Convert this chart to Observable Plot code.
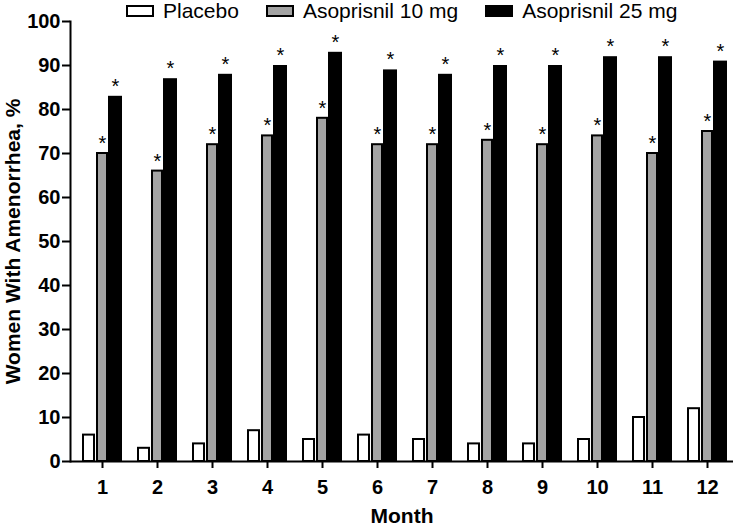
<!DOCTYPE html>
<html>
<head>
<meta charset="utf-8">
<script src="https://cdn.jsdelivr.net/npm/d3@7"></script>
<script src="https://cdn.jsdelivr.net/npm/@observablehq/plot@0.6"></script>
<style>
  html, body { margin: 0; padding: 0; background: #fff; }
  #wrap { position: relative; width: 736px; height: 525px; font-family: "Liberation Sans", Arial, Helvetica, sans-serif; }
  #legend { position: absolute; left: 126px; top: 0px; display: flex; align-items: center; height: 21px; font-size: 21px; color: #000; }
  .item { display: flex; align-items: center; margin-right: 27px; }
  .sw { width: 24px; height: 8px; border: 2px solid #000; margin-right: 9px; box-sizing: content-box; }
</style>
</head>
<body>
<div id="wrap">
  <div id="chart"></div>
  <div id="legend"></div>
</div>
<script>
const months = ["1","2","3","4","5","6","7","8","9","10","11","12"];
const placebo = [6, 3, 4, 7, 5, 6, 5, 4, 4, 5, 10, 12];
const aso10 = [70, 66, 72, 74, 78, 72, 72, 73, 72, 74, 70, 75];
const aso25 = [83, 87, 88, 90, 93, 89, 88, 90, 90, 92, 92, 91];
const seriesNames = ["Placebo", "Asoprisnil 10 mg", "Asoprisnil 25 mg"];
const seriesFills = ["#ffffff", "#a3a3a3", "#000000"];
const yTicks = [0, 10, 20, 30, 40, 50, 60, 70, 80, 90, 100];

const rows = (vals) => months.map((m, i) => ({month: m, value: vals[i]}));
const dP = rows(placebo), d10 = rows(aso10), d25 = rows(aso25);

const font = "Liberation Sans, Arial, Helvetica, sans-serif";

const chart = Plot.plot({
  width: 736,
  height: 525,
  marginLeft: 70,
  marginRight: 3,
  marginTop: 21,
  marginBottom: 64,
  style: {fontFamily: font, background: "#fff", color: "#000"},
  x: {domain: months, range: [82, 727], paddingInner: 0.273, paddingOuter: 0},
  y: {domain: [0, 100]},
  marks: [
    Plot.barY(dP, {x: "month", y: "value", fill: seriesFills[0], stroke: "#000", strokeWidth: 2, insetLeft: 1, insetRight: 28}),
    Plot.barY(d10, {x: "month", y: "value", fill: seriesFills[1], stroke: "#000", strokeWidth: 2, insetLeft: 15, insetRight: 15}),
    Plot.barY(d25, {x: "month", y: "value", fill: seriesFills[2], insetLeft: 26, insetRight: 0}),
    Plot.text(d10, {x: "month", y: "value", text: () => "*", dx: 0, dy: -10, fontSize: 20, fill: "#000"}),
    Plot.text(d25, {x: "month", y: "value", text: () => "*", dx: 13, dy: -10, fontSize: 20, fill: "#000"}),
    Plot.ruleY([0], {stroke: "#000", strokeWidth: 2}),
    Plot.frame({anchor: "left", stroke: "#000", strokeWidth: 2}),
    Plot.axisY({ticks: yTicks, tickSize: 8, tickPadding: 2, tickFormat: d3.format("d"), fontSize: 20, fontWeight: "bold", strokeWidth: 2,
      label: "Women With Amenorrhea, %", labelAnchor: "center", labelOffset: 65, labelArrow: "none"}),
    Plot.axisX({tickSize: 7, tickPadding: 11, fontSize: 20, fontWeight: "bold", strokeWidth: 2,
      label: "Month", labelAnchor: "center", labelOffset: 61, labelArrow: "none"})
  ]
});
chart.querySelectorAll("g[aria-label='y-axis label'], g[aria-label='x-axis label'], g[aria-label='y-axis label'] text, g[aria-label='x-axis label'] text").forEach(el => {
  el.setAttribute("font-weight", "bold");
  el.setAttribute("font-size", "21");
});
document.getElementById("chart").appendChild(chart);

const legend = document.getElementById("legend");
seriesNames.forEach((name, i) => {
  const item = document.createElement("div");
  item.className = "item";
  const sw = document.createElement("span");
  sw.className = "sw";
  sw.style.background = seriesFills[i];
  const tx = document.createElement("span");
  tx.textContent = name;
  item.appendChild(sw);
  item.appendChild(tx);
  legend.appendChild(item);
});
</script>
</body>
</html>
